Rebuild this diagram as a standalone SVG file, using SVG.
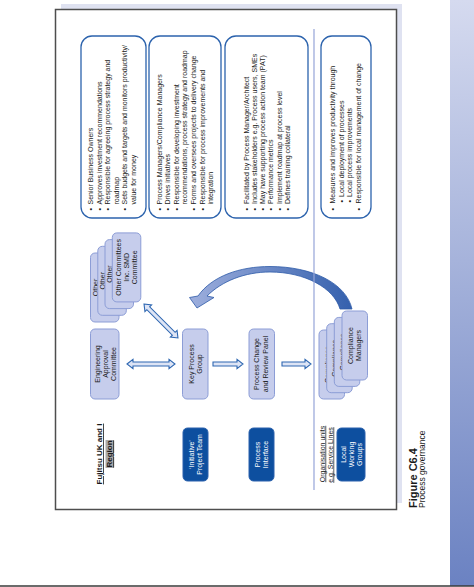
<svg xmlns="http://www.w3.org/2000/svg" width="474" height="587" viewBox="0 0 474 587">
<defs>
<linearGradient id="strip" x1="0" y1="0" x2="0" y2="1"><stop offset="0" stop-color="#d5daef"/><stop offset="1" stop-color="#6b82c2"/></linearGradient>
<linearGradient id="curve" x1="0" y1="0" x2="1" y2="0"><stop offset="0" stop-color="#9eafdd"/><stop offset="1" stop-color="#3460ad"/></linearGradient>
</defs>
<style>
text{font-family:"Liberation Sans",Arial,sans-serif;font-size:7px;fill:#1a1a1a}
.lb{fill:#c6cdec;stroke:#8c9dd6;stroke-width:1}
.db{fill:#0d4f9f;stroke:#2a61ad;stroke-width:1}
.w{fill:#fff}
.tb{fill:#fff;stroke:#2c63ad;stroke-width:1.3}
.ar{fill:#dde4f5;stroke:#2e67b1;stroke-width:1.1}
.hd{font-weight:bold;font-size:8px;text-decoration:underline}
.u{text-decoration:underline}
.cap{font-weight:bold;font-size:11px}
.sub{font-size:8.5px}
</style>
<rect x="0" y="0" width="474" height="587" fill="#fff"/>
<rect x="450" y="0" width="24" height="586" fill="url(#strip)"/>
<line x1="0" y1="586" x2="474" y2="586" stroke="#3a3a3a" stroke-width="1.6"/>
<rect x="61" y="4" width="341" height="499" fill="#dfe2f1"/>
<rect x="55.5" y="9.5" width="341" height="500" fill="#fff" stroke="#4e4e4e" stroke-width="1.5"/>

<g id="box-senior">
<rect class="tb" x="81" y="36" width="65" height="182" rx="11"/>
<g transform="translate(81,210.5) rotate(-90)">
<text y="12"><tspan x="0">•</tspan><tspan x="6">Senior Business Owners</tspan></text>
<text y="20.6"><tspan x="0">•</tspan><tspan x="6">Approves investment recommendations</tspan></text>
<text y="29.2"><tspan x="0">•</tspan><tspan x="6">Responsible for agreeing process strategy and</tspan></text>
<text y="37.8" x="6">roadmap</text>
<text y="46.4"><tspan x="0">•</tspan><tspan x="6">Sets budgets and targets and monitors productivity/</tspan></text>
<text y="55" x="6">value for money</text>
</g>
</g>

<g id="box-managers">
<rect class="tb" x="149" y="36" width="72" height="182" rx="11"/>
<g transform="translate(149,210.5) rotate(-90)">
<text y="12.8"><tspan x="0">•</tspan><tspan x="6">Process Managers/Compliance Managers</tspan></text>
<text y="21.35"><tspan x="0">•</tspan><tspan x="6">Drives initiatives</tspan></text>
<text y="29.9"><tspan x="0">•</tspan><tspan x="6">Responsible for developing investment</tspan></text>
<text y="38.45" x="6">recommendations, process strategy and roadmap</text>
<text y="47"><tspan x="0">•</tspan><tspan x="6">Forms and oversees projects to delivery change</tspan></text>
<text y="55.55"><tspan x="0">•</tspan><tspan x="6">Responsible for process improvements and</tspan></text>
<text y="64.1" x="6">integration</text>
</g>
</g>

<g id="box-facilitated">
<rect class="tb" x="225" y="36" width="83" height="182" rx="11"/>
<g transform="translate(225,210.5) rotate(-90)">
<text y="23.5"><tspan x="0">•</tspan><tspan x="6.5">Facilitated by Process Manager/Architect</tspan></text>
<text y="31.75"><tspan x="0">•</tspan><tspan x="6.5">Includes stakeholders e.g. Process users, SMEs</tspan></text>
<text y="40"><tspan x="0">•</tspan><tspan x="6.5">May have supporting process action team (PAT)</tspan></text>
<text y="48.25"><tspan x="0">•</tspan><tspan x="6.5">Performance metrics</tspan></text>
<text y="56.5"><tspan x="0">•</tspan><tspan x="6.5">Implement roadmap at process level</tspan></text>
<text y="64.75"><tspan x="0">•</tspan><tspan x="6.5">Defines training collateral</tspan></text>
</g>
</g>

<g id="box-measures">
<rect class="tb" x="321" y="36" width="50" height="182" rx="11"/>
<g transform="translate(321,210.5) rotate(-90)">
<text y="14"><tspan x="0">•</tspan><tspan x="7">Measures and improves productivity through</tspan></text>
<text y="22.5"><tspan x="8">•</tspan><tspan x="13.5">Local deployment of processes</tspan></text>
<text y="31"><tspan x="8">•</tspan><tspan x="13.5">Local process improvements</tspan></text>
<text y="39.5"><tspan x="0">•</tspan><tspan x="7">Responsible for local management of change</tspan></text>
</g>
</g>

<g id="header-fujitsu">
<rect x="105.5" y="440" width="8.5" height="28" fill="#a9a9a9"/>
<text class="hd" text-anchor="middle" transform="translate(102,454) rotate(-90)">Fujitsu UK and I</text>
<text class="hd" text-anchor="middle" transform="translate(112.3,454) rotate(-90)">Region</text>
</g>

<g id="header-org">
<text class="u" text-anchor="middle" transform="translate(324.5,454) rotate(-90)">Organisation units</text>
<text class="u" text-anchor="middle" transform="translate(332.5,455) rotate(-90)">e.g. Service Lines</text>
</g>

<g id="node-eng">
<rect class="lb" x="90.5" y="329" width="28.5" height="70" rx="4.5"/>
<text text-anchor="middle" transform="translate(99.5,364) rotate(-90)">Engineering</text>
<text text-anchor="middle" transform="translate(107.5,364) rotate(-90)">Approval</text>
<text text-anchor="middle" transform="translate(115.5,364) rotate(-90)">Committee</text>
</g>

<g id="node-kpg">
<rect class="lb" x="182.5" y="329" width="25.5" height="70" rx="4.5"/>
<text text-anchor="middle" transform="translate(193.5,364) rotate(-90)">Key Process</text>
<text text-anchor="middle" transform="translate(201.5,364) rotate(-90)">Group</text>
</g>

<g id="node-pcrp">
<rect class="lb" x="249" y="329" width="25.5" height="70" rx="4.5"/>
<text text-anchor="middle" transform="translate(259.3,364) rotate(-90)">Process Change</text>
<text text-anchor="middle" transform="translate(267.8,364) rotate(-90)">and Review Panel</text>
</g>

<g id="node-other">
<rect class="lb" x="90.5" y="253" width="28.5" height="69" rx="4.5"/>
<text text-anchor="middle" transform="translate(97.5,287.5) rotate(-90)">Other</text>
<rect class="lb" x="97.8" y="246.3" width="28.5" height="69" rx="4.5"/>
<text text-anchor="middle" transform="translate(104.8,280.8) rotate(-90)">Other</text>
<rect class="lb" x="105" y="239.6" width="28.5" height="69" rx="4.5"/>
<text text-anchor="middle" transform="translate(112,274.1) rotate(-90)">Other</text>
<rect class="lb" x="112.3" y="232.9" width="28.5" height="69" rx="4.5"/>
<text text-anchor="middle" transform="translate(120.5,267.4) rotate(-90)">Other Committees</text>
<text text-anchor="middle" transform="translate(128.5,267.4) rotate(-90)">Inc. SMD</text>
<text text-anchor="middle" transform="translate(136.5,267.4) rotate(-90)">Committee</text>
</g>

<g id="node-compliance">
<rect class="lb" x="319" y="330" width="25.5" height="69" rx="4.5"/>
<text text-anchor="middle" transform="translate(329.5,364.5) rotate(-90)">Compliance</text>
<text text-anchor="middle" transform="translate(337.5,364.5) rotate(-90)">Managers</text>
<rect class="lb" x="326.7" y="323.7" width="25.5" height="69" rx="4.5"/>
<text text-anchor="middle" transform="translate(337.2,358.2) rotate(-90)">Compliance</text>
<text text-anchor="middle" transform="translate(345.2,358.2) rotate(-90)">Managers</text>
<rect class="lb" x="334.3" y="317.4" width="25.5" height="69" rx="4.5"/>
<text text-anchor="middle" transform="translate(344.8,351.9) rotate(-90)">Compliance</text>
<text text-anchor="middle" transform="translate(352.8,351.9) rotate(-90)">Managers</text>
<rect class="lb" x="342" y="311" width="25.5" height="69" rx="4.5"/>
<text text-anchor="middle" transform="translate(352.5,345.5) rotate(-90)">Compliance</text>
<text text-anchor="middle" transform="translate(360.5,345.5) rotate(-90)">Managers</text>
</g>

<g id="node-initiative">
<rect class="db" x="183" y="428" width="25" height="53" rx="4.5"/>
<text class="w" text-anchor="middle" transform="translate(194,454.5) rotate(-90)">‘Initiative’</text>
<text class="w" text-anchor="middle" transform="translate(202,454.5) rotate(-90)">Project Team</text>
</g>

<g id="node-interface">
<rect class="db" x="249" y="428" width="25" height="53" rx="4.5"/>
<text class="w" text-anchor="middle" transform="translate(260,454.5) rotate(-90)">Process</text>
<text class="w" text-anchor="middle" transform="translate(268,454.5) rotate(-90)">Interface</text>
</g>

<g id="node-local">
<rect class="db" x="337" y="428" width="28" height="53" rx="4.5"/>
<text class="w" text-anchor="middle" transform="translate(345.5,454.5) rotate(-90)">Local</text>
<text class="w" text-anchor="middle" transform="translate(353.5,454.5) rotate(-90)">Working</text>
<text class="w" text-anchor="middle" transform="translate(361.5,454.5) rotate(-90)">Groups</text>
</g>

<g id="connectors">
<polygon class="ar" points="127,364 133,359.3 133,362 169,362 169,359.3 175,364 169,368.7 169,366 133,366 133,368.7"/>
<polygon class="ar" points="213,362 237,362 237,359.3 243,364 237,368.7 237,366 213,366"/>
<polygon class="ar" points="282,362 305,362 305,359.3 311,364 305,368.7 305,366 282,366"/>
<polygon class="ar" transform="translate(161,321) rotate(45)" points="-24,0 -18,-4.7 -18,-2 18,-2 18,-4.7 24,0 18,4.7 18,2 -18,2 -18,4.7"/>
<path d="M 198 296 C 212 276, 240 266.5, 270 266.5 C 312 266.5, 346 283, 352 309 L 340 309 C 334 288, 305 272, 270 272 C 245 272, 222 281, 207 296 L 214 297.5 L 197 308 L 189.5 297.5 Z" fill="url(#curve)" stroke="#2d5ba8" stroke-width="0.8"/>
</g>

<line x1="314" y1="29" x2="314" y2="490" stroke="#95a4d8" stroke-width="1.2"/>

<g id="caption">
<text class="cap" transform="translate(417,508) rotate(-90)">Figure C6.4</text>
<text class="sub" transform="translate(425,508) rotate(-90)">Process governance</text>
</g>
</svg>
